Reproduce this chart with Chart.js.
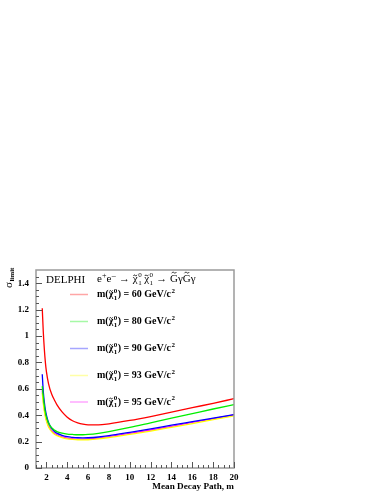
<!DOCTYPE html>
<html lang="en">
<head>
<meta charset="UTF-8">
<title>DELPHI sigma limit</title>
<script src="https://cdn.jsdelivr.net/npm/chart.js"></script>
<style>
  html, body { margin: 0; padding: 0; background: #fff; }
  canvas { display: block; }
</style>
</head>
<body>
<canvas id="grafico" width="389" height="504"></canvas>
<script>
// decay path (m)
const decayPath = [1.6, 1.7, 1.8, 1.9, 2.0, 2.2, 2.5, 2.8, 3.0, 3.5, 4, 4.5, 5, 5.5, 6, 7, 8, 10, 12, 14, 16, 18, 20];

// sigma limit per neutralino mass
const sigma60 = [1.21, 1.03, 0.90, 0.80, 0.73, 0.64, 0.56, 0.51, 0.48, 0.425, 0.385, 0.358, 0.342, 0.332, 0.327, 0.327, 0.335, 0.36, 0.39, 0.423, 0.457, 0.49, 0.525];
const sigma80 = [0.62, 0.54, 0.47, 0.42, 0.385, 0.34, 0.305, 0.285, 0.276, 0.264, 0.257, 0.254, 0.252, 0.252, 0.254, 0.263, 0.276, 0.307, 0.342, 0.377, 0.412, 0.447, 0.48];
const sigma90 = [0.71, 0.58, 0.50, 0.44, 0.40, 0.345, 0.30, 0.275, 0.264, 0.247, 0.237, 0.232, 0.229, 0.228, 0.229, 0.235, 0.245, 0.27, 0.296, 0.324, 0.351, 0.378, 0.405];
const sigma93 = [0.57, 0.49, 0.43, 0.385, 0.355, 0.31, 0.275, 0.254, 0.245, 0.23, 0.221, 0.217, 0.214, 0.213, 0.214, 0.221, 0.231, 0.255, 0.28, 0.308, 0.337, 0.366, 0.395];
const sigma95 = [0.59, 0.51, 0.445, 0.40, 0.365, 0.32, 0.283, 0.261, 0.252, 0.236, 0.227, 0.222, 0.219, 0.219, 0.22, 0.226, 0.237, 0.262, 0.288, 0.316, 0.345, 0.373, 0.402];

const masses = ['60', '80', '90', '93', '95'];
const cores = ['#ff0000', '#00ee00', '#0000ff', '#ffff00', '#ff00ff'];

const xTicks = [2, 4, 6, 8, 10, 12, 14, 16, 18, 20];
const yTicks = [0, 0.2, 0.4, 0.6, 0.8, 1, 1.2, 1.4];
const yTickLabels = ['0', '0.2', '0.4', '0.6', '0.8', '1', '1.2', '1.4'];

const series = [sigma60, sigma80, sigma90, sigma93, sigma95];

const SERIF = '"Liberation Serif", "DejaVu Serif", serif';

function pontos(valores) {
    return decayPath.map((x, i) => ({ x: x, y: valores[i] }));
}

// til pequeno desenhado a mao
function til(ctx, cx, cy, w) {
    ctx.save();
    ctx.lineWidth = 0.8;
    ctx.strokeStyle = '#000';
    ctx.beginPath();
    ctx.moveTo(cx - w / 2, cy + 0.6);
    ctx.bezierCurveTo(cx - w / 4, cy - 1.4, cx, cy - 0.2, cx, cy);
    ctx.bezierCurveTo(cx, cy + 0.2, cx + w / 4, cy + 1.4, cx + w / 2, cy - 0.6);
    ctx.stroke();
    ctx.restore();
}

// chi-tilde com indices 1 e 0
function desenhaChi(ctx, x, y, size, bold) {
    const peso = bold ? 'bold ' : '';
    ctx.font = peso + size + 'px ' + SERIF;
    ctx.fillText('\u03c7', x, y);
    const w = ctx.measureText('\u03c7').width;
    til(ctx, x + w / 2, y - size * 0.6, w * 0.7);
    ctx.font = peso + Math.round(size * 0.65) + 'px ' + SERIF;
    ctx.fillText('1', x + w + 0.5, y + size * 0.25);
    ctx.fillText('0', x + w + 0.5, y - size * 0.42);
    return w + ctx.measureText('0').width + 1;
}

function desenhaGtil(ctx, x, y, size) {
    ctx.font = size + 'px ' + SERIF;
    ctx.fillText('G', x, y);
    const w = ctx.measureText('G').width;
    til(ctx, x + w / 2, y - size * 0.85, w * 0.6);
    return w;
}

const decoracao = {
    id: 'decoracao',
    afterDraw(chart) {
        const ctx = chart.ctx;
        const a = chart.chartArea;
        const sx = chart.scales.x;
        const sy = chart.scales.y;
        ctx.save();

        // moldura
        ctx.strokeStyle = '#9a9a9a';
        ctx.lineWidth = 1.5;
        ctx.strokeRect(a.left, a.top, a.right - a.left, a.bottom - a.top);

        // ticks para dentro
        ctx.strokeStyle = '#555';
        ctx.lineWidth = 1;
        ctx.beginPath();
        for (let v = 1; v <= 20.001; v += 0.5) {
            const px = Math.round(sx.getPixelForValue(v)) + 0.5;
            const len = xTicks.includes(v) ? 6 : 3;
            ctx.moveTo(px, a.bottom);
            ctx.lineTo(px, a.bottom - len);
        }
        for (let k = 0; k <= 29; k++) {
            const v = k * 0.05;
            const py = Math.round(sy.getPixelForValue(v)) + 0.5;
            const len = (k % 4 === 0) ? 6 : 3;
            ctx.moveTo(a.left, py);
            ctx.lineTo(a.left + len, py);
        }
        ctx.stroke();

        ctx.fillStyle = '#000';
        ctx.textBaseline = 'alphabetic';
        ctx.textAlign = 'left';

        // titulo do eixo x
        ctx.font = 'bold 9.2px ' + SERIF;
        ctx.textAlign = 'right';
        ctx.fillText('Mean Decay Path, m', a.right, 489);
        ctx.textAlign = 'left';

        // titulo do eixo y
        ctx.save();
        ctx.translate(11.5, 288);
        ctx.rotate(-Math.PI / 2);
        ctx.font = '11px ' + SERIF;
        ctx.fillText('\u03c3', 0, 0);
        const ws = ctx.measureText('\u03c3').width;
        ctx.font = 'bold 7px ' + SERIF;
        ctx.fillText('limit', ws + 0.5, 2.5);
        ctx.restore();

        // DELPHI e processo
        ctx.font = '11px ' + SERIF;
        ctx.fillText('DELPHI', 46, 283);
        let x = 97;
        const yb = 282;
        ctx.font = '11px ' + SERIF;
        ctx.fillText('e', x, yb); x += ctx.measureText('e').width;
        ctx.font = '8px ' + SERIF;
        ctx.fillText('+', x, yb - 4.5); x += ctx.measureText('+').width;
        ctx.font = '11px ' + SERIF;
        ctx.fillText('e', x, yb); x += ctx.measureText('e').width;
        ctx.font = '8px ' + SERIF;
        ctx.fillText('\u2013', x + 0.5, yb - 4.5); x += ctx.measureText('\u2013').width + 1;
        ctx.font = '11px ' + SERIF;
        ctx.fillText(' \u2192 ', x, yb); x += ctx.measureText(' \u2192 ').width;
        x += desenhaChi(ctx, x, yb, 11, false) + 2;
        x += desenhaChi(ctx, x, yb, 11, false);
        ctx.font = '11px ' + SERIF;
        ctx.fillText(' \u2192 ', x, yb); x += ctx.measureText(' \u2192 ').width;
        x += desenhaGtil(ctx, x, yb, 11);
        ctx.font = '11px ' + SERIF;
        ctx.fillText('\u03b3', x, yb); x += ctx.measureText('\u03b3').width;
        x += desenhaGtil(ctx, x, yb, 11);
        ctx.font = '11px ' + SERIF;
        ctx.fillText('\u03b3', x, yb);

        // legenda
        const yLeg = [294.5, 321.5, 348.5, 375.5, 402];
        masses.forEach((m, i) => {
            const yl = yLeg[i];
            ctx.strokeStyle = cores[i];
            ctx.globalAlpha = 0.35;
            ctx.lineWidth = 1.5;
            ctx.beginPath();
            ctx.moveTo(70, yl);
            ctx.lineTo(88, yl);
            ctx.stroke();
            ctx.globalAlpha = 1;

            const yt = yl + 2.5;
            let xt = 97;
            ctx.font = 'bold 10px ' + SERIF;
            ctx.fillText('m(', xt, yt); xt += ctx.measureText('m(').width;
            xt += desenhaChi(ctx, xt, yt, 10, true);
            ctx.font = 'bold 10px ' + SERIF;
            const txt = ') = ' + m + ' GeV/c';
            ctx.fillText(txt, xt, yt); xt += ctx.measureText(txt).width;
            ctx.font = 'bold 7px ' + SERIF;
            ctx.fillText('2', xt + 0.5, yt - 4.5);
        });

        ctx.restore();
    }
};

new Chart(document.getElementById('grafico').getContext('2d'), {
    type: 'line',
    data: {
        datasets: series.map((valores, i) => ({
            label: masses[i],
            data: pontos(valores),
            borderColor: cores[i],
            borderWidth: 1.3,
            pointRadius: 0,
            fill: false,
            cubicInterpolationMode: 'monotone'
        }))
    },
    options: {
        responsive: false,
        animation: false,
        events: [],
        layout: { padding: { top: 270, right: 155, left: 0, bottom: 0 } },
        plugins: {
            legend: { display: false },
            tooltip: { enabled: false }
        },
        scales: {
            x: {
                type: 'linear',
                min: 1,
                max: 20,
                grid: { display: false, drawTicks: false },
                border: { display: false },
                afterFit(s) { s.height = 36; },
                afterBuildTicks(s) { s.ticks = xTicks.map(v => ({ value: v })); },
                ticks: {
                    padding: 4,
                    color: '#000',
                    font: { family: SERIF, size: 9, weight: 'bold' },
                    maxRotation: 0,
                    autoSkip: false
                }
            },
            y: {
                type: 'linear',
                min: 0,
                max: 1.5,
                grid: { display: false, drawTicks: false },
                border: { display: false },
                afterFit(s) { s.width = 36; },
                afterBuildTicks(s) { s.ticks = yTicks.map(v => ({ value: v })); },
                ticks: {
                    padding: 7,
                    color: '#000',
                    font: { family: SERIF, size: 9, weight: 'bold' },
                    autoSkip: false,
                    callback: (v) => yTickLabels[yTicks.indexOf(v)]
                }
            }
        }
    },
    plugins: [decoracao]
});
</script>
</body>
</html>
